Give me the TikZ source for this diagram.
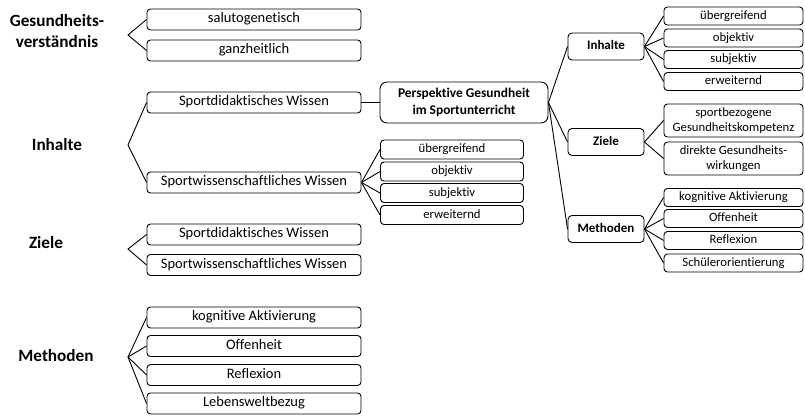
\documentclass[tikz,border=0pt]{standalone}
\usepackage{fontspec}
\setmainfont[Ligatures=NoCommon]{Carlito}
\begin{document}
\begin{tikzpicture}[x=1pt,y=-1pt,
  tc/.style={text height=0.78em,text depth=0.12em},
  lbox/.style={draw=black,line width=0.9pt,rounded corners=3.5pt,inner sep=0pt,minimum width=214pt,minimum height=21pt,tc,font=\fontsize{14.5}{16}\selectfont},
  sbox/.style={draw=black,line width=0.9pt,rounded corners=3.5pt,inner sep=0pt,minimum width=143pt,minimum height=19pt,tc,font=\fontsize{12.7}{14}\selectfont},
  mbox/.style={draw=black,line width=0.9pt,rounded corners=4pt,inner sep=0pt,minimum width=76pt,minimum height=27pt,tc,font=\bfseries\fontsize{13}{15}\selectfont},
  rbox/.style={draw=black,line width=0.9pt,rounded corners=3.5pt,inner sep=0pt,minimum width=139pt,minimum height=18pt,align=center,font=\fontsize{12.7}{14}\selectfont},
  lab/.style={align=center,font=\bfseries\fontsize{17.2}{21}\selectfont},
  conn/.style={draw=black,line width=0.9pt}]
\useasboundingbox (0,0) rectangle (805,416);

% left labels
\node[lab] (lGes) at (57,31) {Gesundheits-\\verständnis};
\node[lab] (lInh) at (57,145) {Inhalte};
\node[lab] (lZie) at (46,243) {Ziele};
\node[lab] (lMet) at (56,356) {Methoden};

\coordinate (aGes) at (128,35);
\coordinate (aInh) at (128,145);
\coordinate (aZie) at (128,249);
\coordinate (aMet) at (128,357);

% left boxes
\node[lbox] (salu) at (254,19.5) {salutogenetisch};
\node[lbox] (ganz) at (254,50.5) {ganzheitlich};
\node[lbox] (sdw1) at (254,102.5) {Sportdidaktisches Wissen};
\node[lbox] (sww1) at (254,182.5) {Sportwissenschaftliches Wissen};
\node[lbox] (sdw2) at (254,234.5) {Sportdidaktisches Wissen};
\node[lbox] (sww2) at (254,265) {Sportwissenschaftliches Wissen};
\node[lbox] (kog1) at (254,317.5) {kognitive Aktivierung};
\node[lbox] (off1) at (254,346) {Offenheit};
\node[lbox] (ref1) at (254,375) {Reflexion};
\node[lbox] (leb1) at (254,403.5) {Lebensweltbezug};

% sub boxes of Sportwissenschaftliches Wissen
\node[sbox] (ueb1) at (452,149.5) {übergreifend};
\node[sbox] (obj1) at (452,171.5) {objektiv};
\node[sbox] (sub1) at (452,193) {subjektiv};
\node[sbox] (erw1) at (452,215) {erweiternd};

% central box
\node[draw=black,line width=0.9pt,rounded corners=7pt,inner sep=0pt,minimum width=168pt,minimum height=41pt,align=center,font=\bfseries\fontsize{13.4}{17}\selectfont] (center) at (464,102.5) {Perspektive Gesundheit\\im Sportunterricht};

% right middle boxes
\node[mbox] (rInh) at (606,46.5) {Inhalte};
\node[mbox] (rZie) at (606,142) {Ziele};
\node[mbox] (rMet) at (606,229) {Methoden};

% right sub boxes
\node[rbox,tc] (ueb2) at (733.5,16) {übergreifend};
\node[rbox,tc] (obj2) at (733.5,38) {objektiv};
\node[rbox,tc] (sub2) at (733.5,59.5) {subjektiv};
\node[rbox,tc] (erw2) at (733.5,81.5) {erweiternd};
\node[rbox,minimum height=33pt,font=\fontsize{12.7}{14.5}\selectfont] (spg) at (733.5,120.5) {sportbezogene\\Gesundheitskompetenz};
\node[rbox,minimum height=33pt,font=\fontsize{12.7}{14.5}\selectfont] (dgw) at (733.5,158.5) {direkte Gesundheits-\\wirkungen};
\node[rbox,tc] (kog2) at (733.5,197.5) {kognitive Aktivierung};
\node[rbox,tc] (off2) at (733.5,218.5) {Offenheit};
\node[rbox,tc] (ref2) at (733.5,240.5) {Reflexion};
\node[rbox,tc] (sch2) at (733.5,263) {Schülerorientierung};

% connectors left
\draw[conn] (salu.west) -- (aGes) -- (ganz.west);
\draw[conn] (sdw1.west) -- (aInh) -- (sww1.west);
\draw[conn] (sdw2.west) -- (aZie) -- (sww2.west);
\foreach \n in {kog1,off1,ref1,leb1} \draw[conn] (aMet) -- (\n.west);
\foreach \n in {ueb1,obj1,sub1,erw1} \draw[conn] (sww1.east) -- (\n.west);
\draw[conn] (sdw1.east) -- (center.west);
% connectors right
\foreach \n in {rInh,rZie,rMet} \draw[conn] (center.east) -- (\n.west);
\foreach \n in {ueb2,obj2,sub2,erw2} \draw[conn] (rInh.east) -- (\n.west);
\foreach \n in {spg,dgw} \draw[conn] (rZie.east) -- (\n.west);
\foreach \n in {kog2,off2,ref2,sch2} \draw[conn] (rMet.east) -- (\n.west);
\end{tikzpicture}
\end{document}
